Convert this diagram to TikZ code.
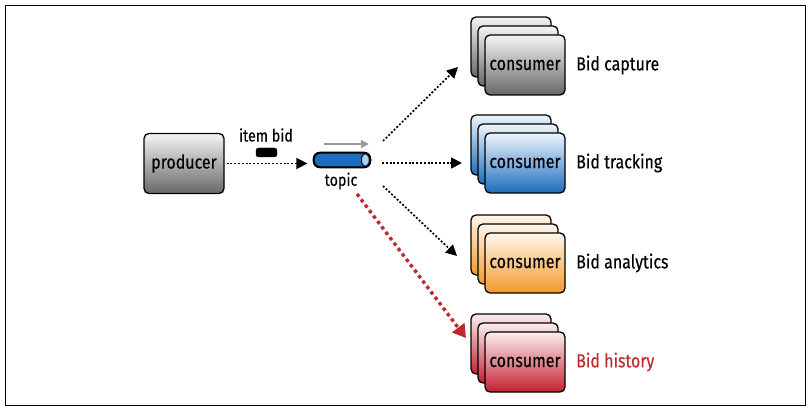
\documentclass[tikz,border=0pt]{standalone}
\usepackage{fontspec}
\setmainfont{Fira Sans}[FakeStretch=0.84,FakeBold=0.3]
\usetikzlibrary{arrows.meta}
\definecolor{gtop}{HTML}{F4F4F4}
\definecolor{gbot}{HTML}{676767}
\definecolor{btop}{HTML}{EEF5FC}
\definecolor{bbot}{HTML}{1C6DBE}
\definecolor{otop}{HTML}{FFF6EC}
\definecolor{obot}{HTML}{F39A2A}
\definecolor{rtop}{HTML}{FBEEF0}
\definecolor{rbot}{HTML}{C4202F}
\definecolor{bidred}{HTML}{C1272D}
\definecolor{topicblue}{HTML}{1C6DBE}
\definecolor{topiclight}{HTML}{A9D3F0}
\begin{document}
\begin{tikzpicture}[x=1pt,y=-1pt,
  cbox/.style={draw=black, line width=1.3pt, rounded corners=5pt,
    minimum width=80pt, minimum height=60pt, inner sep=0pt,
    font=\fontsize{19}{21}\selectfont},
  lbl/.style={anchor=west, inner sep=0pt, font=\fontsize{19}{21}\selectfont},
  small/.style={inner sep=0pt, font=\fontsize{17}{19}\selectfont},
  dotarrow/.style={draw=black, line width=1.7pt, dash pattern=on 1.9pt off 1.9pt,
    -{Triangle[length=11pt,width=11pt]}},
  redarrow/.style={draw=bidred, line width=3.4pt, dash pattern=on 3.4pt off 3.4pt,
    -{Triangle[length=13pt,width=15pt]}}
]
\useasboundingbox (0,0) rectangle (811,411);
\draw[line width=1.2pt] (5.5,5.5) rectangle (805.5,405.5);

% producer
\node[cbox, top color=gtop, bottom color=gbot] (producer) at (184,163.5) {producer};

% item bid
\node[small] (itembid) at (266,135) {item bid};
\node[draw=black, fill=black, rounded corners=2.5pt, minimum width=21pt,
  minimum height=9pt, inner sep=0pt] (msg) at (266.5,152.5) {};

% topic
\node[draw=black, fill=topicblue, line width=1.3pt, rounded corners=6.5pt,
  minimum width=56pt, minimum height=14pt, inner sep=0pt] (topic) at (342,160) {};
\fill[topiclight] (364.5,154.2) arc[start angle=90, end angle=-90, x radius=4pt, y radius=5.8pt]
  arc[start angle=-90, end angle=-270, x radius=3pt, y radius=5.8pt];
\draw[line width=1pt] (364.5,154) arc[start angle=90, end angle=270, x radius=3pt, y radius=6pt];
\draw[black, line width=1.3pt, rounded corners=6.5pt] (topic.south west) rectangle (topic.north east);
\node[small] (topiclbl) at (341,181) {topic};
\coordinate (g1) at (324,144);
\coordinate (g2) at (369,144);
\draw[gray!80, line width=1.5pt, -{Triangle[length=8pt,width=8pt]}] (g1) -- (g2);

% producer -> topic
\draw[dotarrow, shorten <=2pt, shorten >=6pt] (producer.east) -- (producer.east -| topic.west);

% consumers
\foreach \n/\cy/\tc/\bc/\lab/\lc in {cap/65/gtop/gbot/Bid capture/black,
    trk/163/btop/bbot/Bid tracking/black,
    ana/263/otop/obot/Bid analytics/black,
    his/362/rtop/rbot/Bid history/bidred}{
  \node[cbox, top color=\tc, bottom color=\bc] (\n3) at (511,\cy-18) {};
  \node[cbox, top color=\tc, bottom color=\bc] (\n2) at (518,\cy-9) {};
  \node[cbox, top color=\tc, bottom color=\bc] (\n) at (525,\cy) {consumer};
  \node[lbl, text=\lc] (\n lbl) at (576,\cy) {\lab};
}

% topic -> consumers
\coordinate (o1) at (383,141);
\coordinate (e1) at (458,67);
\coordinate (o2) at (382,163);
\coordinate (e2) at (462,163);
\coordinate (o3) at (383,186);
\coordinate (e3) at (457,256);
\coordinate (o4) at (357,194);
\coordinate (e4) at (466,338);
\draw[dotarrow] (o1) -- (e1);
\draw[dotarrow] (o2) -- (e2);
\draw[dotarrow] (o3) -- (e3);
\draw[redarrow] (o4) -- (e4);
\end{tikzpicture}
\end{document}
